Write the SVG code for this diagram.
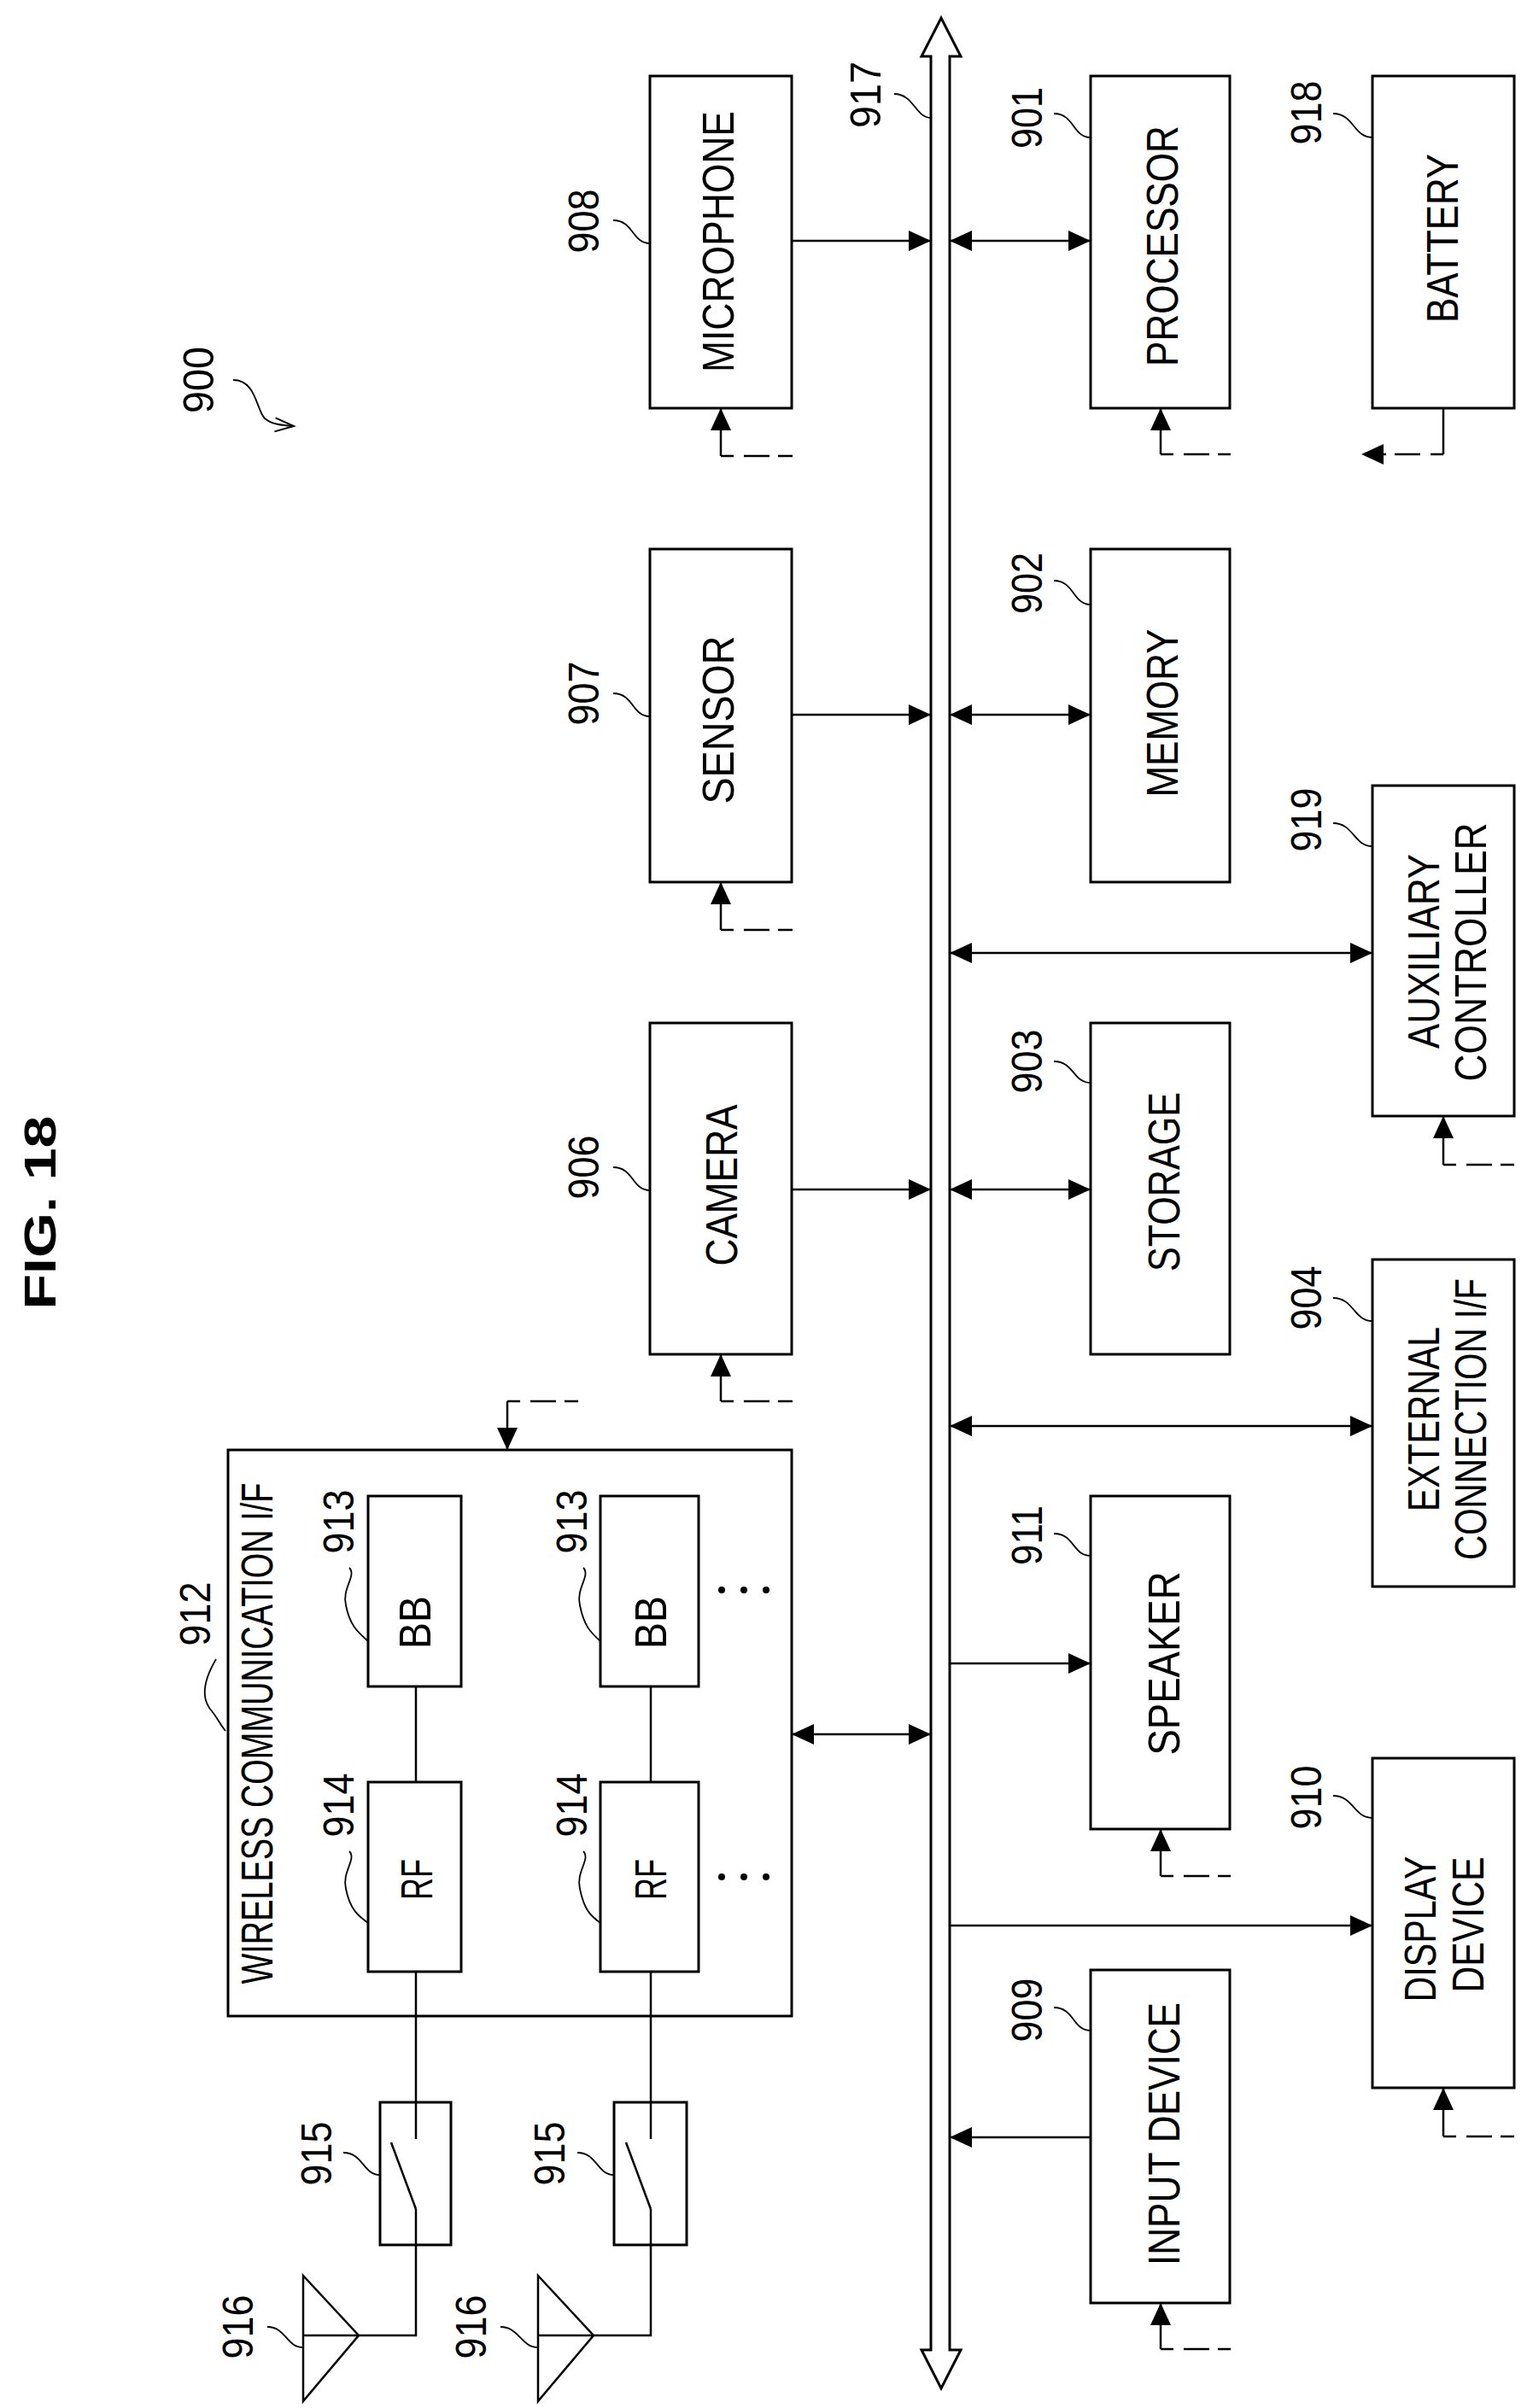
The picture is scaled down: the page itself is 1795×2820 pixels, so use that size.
<svg xmlns="http://www.w3.org/2000/svg" width="1795" height="2820" viewBox="0 0 1795 2820">
<style>
.box{fill:#fff;stroke:#000;stroke-width:3}
.ln{fill:none;stroke:#000;stroke-width:2.5}
.dash{fill:none;stroke:#000;stroke-width:2.5;stroke-dasharray:15 12 30 10 22}
.ld{fill:none;stroke:#000;stroke-width:1.8}
.t{font-family:"Liberation Sans",Arial,sans-serif;font-size:52px;text-anchor:middle;fill:#000}
.n{font-family:"Liberation Sans",Arial,sans-serif;font-size:50px;text-anchor:middle;fill:#000}
</style>
<defs>
<marker id="ah" markerUnits="userSpaceOnUse" markerWidth="30" markerHeight="26" refX="26" refY="12" orient="auto-start-reverse" viewBox="0 0 30 26"><path d="M0,0 L26,12 L0,24 Z" fill="#000"/></marker>
<marker id="oa" markerUnits="userSpaceOnUse" markerWidth="30" markerHeight="26" refX="26" refY="12" orient="auto" viewBox="0 0 30 26"><path d="M4,4 L26,12 L4,20" fill="none" stroke="#000" stroke-width="2"/></marker>
</defs>
<rect width="1795" height="2820" fill="#fff"/>
<text class="t" font-weight="bold" font-size="66" transform="translate(47,1420) rotate(-90)" dy="0.35em" textLength="227" lengthAdjust="spacingAndGlyphs">FIG. 18</text>
<g id="n900"><text class="n" transform="translate(232,445) rotate(-90)" dy="0.35em" textLength="78" lengthAdjust="spacingAndGlyphs">900</text>
<path class="ld" d="M273,445 C300,445 300,480 310,490 C318,497 330,498 344,499" marker-end="url(#oa)"/></g>

<g id="bus917">
<path d="M1090,2752 V66 H1079 L1102,21 L1125,66 H1112 V2752 H1125 L1102,2797 L1079,2752 Z" fill="#fff" stroke="#000" stroke-width="3"/>
<text class="n" transform="translate(1013,111) rotate(-90)" dy="0.35em" textLength="78" lengthAdjust="spacingAndGlyphs">917</text>
<path class="ld" d="M1047,110 C1070,110 1072,138 1090,138"/></g>

<g id="n908"><rect class="box" x="761" y="89" width="166" height="389"/>
<text class="t" transform="translate(841,283) rotate(-90)" dy="0.35em" textLength="306" lengthAdjust="spacingAndGlyphs">MICROPHONE</text>
<text class="n" transform="translate(683,259) rotate(-90)" dy="0.35em" textLength="75" lengthAdjust="spacingAndGlyphs">908</text>
<path class="ld" d="M718,258 C742,258 740,285 761,285"/></g>

<g id="n907"><rect class="box" x="761" y="643" width="166" height="390"/>
<text class="t" transform="translate(841,843) rotate(-90)" dy="0.35em" textLength="197" lengthAdjust="spacingAndGlyphs">SENSOR</text>
<text class="n" transform="translate(683,812) rotate(-90)" dy="0.35em" textLength="75" lengthAdjust="spacingAndGlyphs">907</text>
<path class="ld" d="M718,812 C742,812 740,839 761,839"/></g>

<g id="n906"><rect class="box" x="761" y="1198" width="166" height="388"/>
<text class="t" transform="translate(845,1388) rotate(-90)" dy="0.35em" textLength="189" lengthAdjust="spacingAndGlyphs">CAMERA</text>
<text class="n" transform="translate(683,1367) rotate(-90)" dy="0.35em" textLength="75" lengthAdjust="spacingAndGlyphs">906</text>
<path class="ld" d="M718,1367 C742,1367 740,1394 761,1394"/></g>

<g id="n901"><rect class="box" x="1277" y="89" width="163" height="389"/>
<text class="t" transform="translate(1361,288) rotate(-90)" dy="0.35em" textLength="282" lengthAdjust="spacingAndGlyphs">PROCESSOR</text>
<text class="n" transform="translate(1202,138) rotate(-90)" dy="0.35em" textLength="72" lengthAdjust="spacingAndGlyphs">901</text>
<path class="ld" d="M1234,133 C1258,133 1256,161 1277,161"/></g>

<g id="n902"><rect class="box" x="1277" y="643" width="163" height="390"/>
<text class="t" transform="translate(1361,835) rotate(-90)" dy="0.35em" textLength="197" lengthAdjust="spacingAndGlyphs">MEMORY</text>
<text class="n" transform="translate(1202,683) rotate(-90)" dy="0.35em" textLength="72" lengthAdjust="spacingAndGlyphs">902</text>
<path class="ld" d="M1234,680 C1258,680 1256,708 1277,708"/></g>

<g id="n903"><rect class="box" x="1277" y="1198" width="163" height="388"/>
<text class="t" transform="translate(1363,1384) rotate(-90)" dy="0.35em" textLength="210" lengthAdjust="spacingAndGlyphs">STORAGE</text>
<text class="n" transform="translate(1202,1243) rotate(-90)" dy="0.35em" textLength="75" lengthAdjust="spacingAndGlyphs">903</text>
<path class="ld" d="M1234,1243 C1258,1243 1256,1268 1277,1268"/></g>

<g id="n911"><rect class="box" x="1277" y="1752" width="163" height="390"/>
<text class="t" transform="translate(1363,1948) rotate(-90)" dy="0.35em" textLength="215" lengthAdjust="spacingAndGlyphs">SPEAKER</text>
<text class="n" transform="translate(1202,1798) rotate(-90)" dy="0.35em" textLength="70" lengthAdjust="spacingAndGlyphs">911</text>
<path class="ld" d="M1234,1796 C1258,1796 1256,1822 1277,1822"/></g>

<g id="n909"><rect class="box" x="1277" y="2307" width="163" height="390"/>
<text class="t" transform="translate(1363,2499) rotate(-90)" dy="0.35em" textLength="308" lengthAdjust="spacingAndGlyphs">INPUT DEVICE</text>
<text class="n" transform="translate(1202,2354) rotate(-90)" dy="0.35em" textLength="75" lengthAdjust="spacingAndGlyphs">909</text>
<path class="ld" d="M1234,2351 C1258,2351 1256,2378 1277,2378"/></g>

<g id="n918"><rect class="box" x="1607" y="89" width="166" height="389"/>
<text class="t" transform="translate(1689,279) rotate(-90)" dy="0.35em" textLength="198" lengthAdjust="spacingAndGlyphs">BATTERY</text>
<text class="n" transform="translate(1529,132) rotate(-90)" dy="0.35em" textLength="75" lengthAdjust="spacingAndGlyphs">918</text>
<path class="ld" d="M1561,133 C1585,133 1585,161 1607,161"/></g>

<g id="n919"><rect class="box" x="1607" y="920" width="166" height="387"/>
<text class="t" transform="translate(1667,1114) rotate(-90)" dy="0.35em" textLength="228" lengthAdjust="spacingAndGlyphs">AUXILIARY</text>
<text class="t" transform="translate(1722,1115) rotate(-90)" dy="0.35em" textLength="303" lengthAdjust="spacingAndGlyphs">CONTROLLER</text>
<text class="n" transform="translate(1529,960) rotate(-90)" dy="0.35em" textLength="75" lengthAdjust="spacingAndGlyphs">919</text>
<path class="ld" d="M1561,964 C1585,964 1585,991 1607,991"/></g>

<g id="n904"><rect class="box" x="1607" y="1475" width="166" height="383"/>
<text class="t" transform="translate(1667,1662) rotate(-90)" dy="0.35em" textLength="216" lengthAdjust="spacingAndGlyphs">EXTERNAL</text>
<text class="t" transform="translate(1722,1662) rotate(-90)" dy="0.35em" textLength="330" lengthAdjust="spacingAndGlyphs">CONNECTION I/F</text>
<text class="n" transform="translate(1529,1520) rotate(-90)" dy="0.35em" textLength="75" lengthAdjust="spacingAndGlyphs">904</text>
<path class="ld" d="M1561,1520 C1585,1520 1585,1547 1607,1547"/></g>

<g id="n910"><rect class="box" x="1607" y="2059" width="166" height="386"/>
<text class="t" transform="translate(1663,2259) rotate(-90)" dy="0.35em" textLength="171" lengthAdjust="spacingAndGlyphs">DISPLAY</text>
<text class="t" transform="translate(1719,2254) rotate(-90)" dy="0.35em" textLength="159" lengthAdjust="spacingAndGlyphs">DEVICE</text>
<text class="n" transform="translate(1529,2105) rotate(-90)" dy="0.35em" textLength="75" lengthAdjust="spacingAndGlyphs">910</text>
<path class="ld" d="M1561,2103 C1585,2103 1585,2129 1607,2129"/></g>

<g id="n912"><rect class="box" x="267" y="1698" width="660" height="663"/>
<text class="t" font-size="44" transform="translate(301,2030) rotate(-90)" dy="0.35em" textLength="587" lengthAdjust="spacingAndGlyphs">WIRELESS COMMUNICATION I/F</text>
<text class="n" transform="translate(228,1890) rotate(-90)" dy="0.35em" textLength="75" lengthAdjust="spacingAndGlyphs">912</text>
<path class="ld" d="M253,1943 C240,1965 235,1985 245,2000 C255,2012 258,2020 264,2027"/>
<circle cx="845" cy="1862" r="4"/><circle cx="871" cy="1862" r="4"/><circle cx="897" cy="1862" r="4"/>
<circle cx="845" cy="2198" r="4"/><circle cx="871" cy="2198" r="4"/><circle cx="897" cy="2198" r="4"/></g>

<g id="n913a"><rect class="box" x="431" y="1752" width="109" height="223"/>
<text class="t" transform="translate(486,1900) rotate(-90)" dy="0.35em" textLength="62" lengthAdjust="spacingAndGlyphs">BB</text>
<text class="n" transform="translate(396,1782) rotate(-90)" dy="0.35em" textLength="75" lengthAdjust="spacingAndGlyphs">913</text>
<path class="ld" d="M409,1836 C418,1845 400,1860 405,1880 C410,1905 420,1912 431,1922"/></g>
<g id="n913b"><rect class="box" x="703" y="1752" width="115" height="223"/>
<text class="t" transform="translate(762,1900) rotate(-90)" dy="0.35em" textLength="62" lengthAdjust="spacingAndGlyphs">BB</text>
<text class="n" transform="translate(669,1782) rotate(-90)" dy="0.35em" textLength="75" lengthAdjust="spacingAndGlyphs">913</text>
<path class="ld" d="M683,1836 C692,1845 674,1860 679,1880 C684,1905 692,1912 703,1922"/></g>
<g id="n914a"><rect class="box" x="431" y="2087" width="109" height="222"/>
<text class="t" transform="translate(488,2201) rotate(-90)" dy="0.35em" textLength="48" lengthAdjust="spacingAndGlyphs">RF</text>
<text class="n" transform="translate(396,2114) rotate(-90)" dy="0.35em" textLength="75" lengthAdjust="spacingAndGlyphs">914</text>
<path class="ld" d="M409,2168 C418,2177 400,2192 405,2212 C410,2237 420,2244 431,2252"/></g>
<g id="n914b"><rect class="box" x="703" y="2087" width="115" height="222"/>
<text class="t" transform="translate(762,2201) rotate(-90)" dy="0.35em" textLength="48" lengthAdjust="spacingAndGlyphs">RF</text>
<text class="n" transform="translate(669,2114) rotate(-90)" dy="0.35em" textLength="75" lengthAdjust="spacingAndGlyphs">914</text>
<path class="ld" d="M683,2168 C692,2177 674,2192 679,2212 C684,2237 692,2244 703,2252"/></g>

<g id="n915a"><rect class="box" x="445" y="2462" width="83" height="167" fill="none"/>
<path class="ln" d="M458,2509 L487,2587"/>
<text class="n" transform="translate(370,2522) rotate(-90)" dy="0.35em" textLength="75" lengthAdjust="spacingAndGlyphs">915</text>
<path class="ld" d="M402,2521 C425,2521 425,2547 445,2547"/></g>
<g id="n915b"><rect class="box" x="719" y="2462" width="85" height="167"/>
<path class="ln" d="M733,2509 L762,2587"/>
<text class="n" transform="translate(643,2522) rotate(-90)" dy="0.35em" textLength="75" lengthAdjust="spacingAndGlyphs">915</text>
<path class="ld" d="M676,2521 C699,2521 699,2547 719,2547"/></g>
<g id="n916a"><path class="ln" d="M355,2665 L420,2735 L355,2812 Z M355,2735 H420"/>
<text class="n" transform="translate(278,2725) rotate(-90)" dy="0.35em" textLength="75" lengthAdjust="spacingAndGlyphs">916</text>
<path class="ld" d="M313,2725 C335,2725 335,2749 355,2749"/></g>
<g id="n916b"><path class="ln" d="M630,2665 L695,2735 L630,2812 Z M630,2735 H695"/>
<text class="n" transform="translate(551,2725) rotate(-90)" dy="0.35em" textLength="75" lengthAdjust="spacingAndGlyphs">916</text>
<path class="ld" d="M586,2725 C608,2725 610,2749 630,2749"/></g>

<g id="connectors">
<line class="ln" x1="927" y1="282" x2="1090" y2="282" marker-end="url(#ah)"/>
<line class="ln" x1="1112" y1="282" x2="1277" y2="282" marker-start="url(#ah)" marker-end="url(#ah)"/>
<line class="ln" x1="927" y1="837" x2="1090" y2="837" marker-end="url(#ah)"/>
<line class="ln" x1="1112" y1="837" x2="1277" y2="837" marker-start="url(#ah)" marker-end="url(#ah)"/>
<line class="ln" x1="1112" y1="1116" x2="1607" y2="1116" marker-start="url(#ah)" marker-end="url(#ah)"/>
<line class="ln" x1="927" y1="1393" x2="1090" y2="1393" marker-end="url(#ah)"/>
<line class="ln" x1="1112" y1="1393" x2="1277" y2="1393" marker-start="url(#ah)" marker-end="url(#ah)"/>
<line class="ln" x1="1112" y1="1670" x2="1607" y2="1670" marker-start="url(#ah)" marker-end="url(#ah)"/>
<line class="ln" x1="1112" y1="1948" x2="1277" y2="1948" marker-end="url(#ah)"/>
<line class="ln" x1="927" y1="2031" x2="1090" y2="2031" marker-start="url(#ah)" marker-end="url(#ah)"/>
<line class="ln" x1="1112" y1="2255" x2="1607" y2="2255" marker-end="url(#ah)"/>
<line class="ln" x1="1277" y1="2503" x2="1112" y2="2503" marker-end="url(#ah)"/>
<!-- dashed power/control inputs -->
<line class="ln" x1="844" y1="534" x2="844" y2="478" marker-end="url(#ah)"/><line class="dash" x1="844" y1="534" x2="928" y2="534"/>
<line class="ln" x1="844" y1="1089" x2="844" y2="1033" marker-end="url(#ah)"/><line class="dash" x1="844" y1="1089" x2="928" y2="1089"/>
<line class="ln" x1="844" y1="1641" x2="844" y2="1586" marker-end="url(#ah)"/><line class="dash" x1="844" y1="1641" x2="928" y2="1641"/>
<line class="ln" x1="1359" y1="532" x2="1359" y2="478" marker-end="url(#ah)"/><line class="dash" x1="1359" y1="532" x2="1441" y2="532"/>
<line class="ln" x1="1359" y1="2197" x2="1359" y2="2142" marker-end="url(#ah)"/><line class="dash" x1="1359" y1="2197" x2="1441" y2="2197"/>
<line class="ln" x1="1359" y1="2751" x2="1359" y2="2697" marker-end="url(#ah)"/><line class="dash" x1="1359" y1="2751" x2="1441" y2="2751"/>
<line class="ln" x1="1690" y1="1364" x2="1690" y2="1307" marker-end="url(#ah)"/><line class="dash" x1="1690" y1="1364" x2="1773" y2="1364"/>
<line class="ln" x1="1690" y1="2502" x2="1690" y2="2445" marker-end="url(#ah)"/><line class="dash" x1="1690" y1="2502" x2="1773" y2="2502"/>
<line class="ln" x1="594" y1="1641" x2="594" y2="1698" marker-end="url(#ah)"/><line class="dash" x1="594" y1="1641" x2="677" y2="1641"/>
<line class="ln" x1="1690" y1="478" x2="1690" y2="532"/><line class="dash" x1="1690" y1="532" x2="1594" y2="532" marker-end="url(#ah)"/>
<!-- RF chains -->
<path class="ln" d="M487,1975 V2087 M487,2309 V2505 M487,2587 V2735 H420"/>
<path class="ln" d="M762,1975 V2087 M762,2309 V2505 M762,2587 V2735 H695"/>
</g>
</svg>
